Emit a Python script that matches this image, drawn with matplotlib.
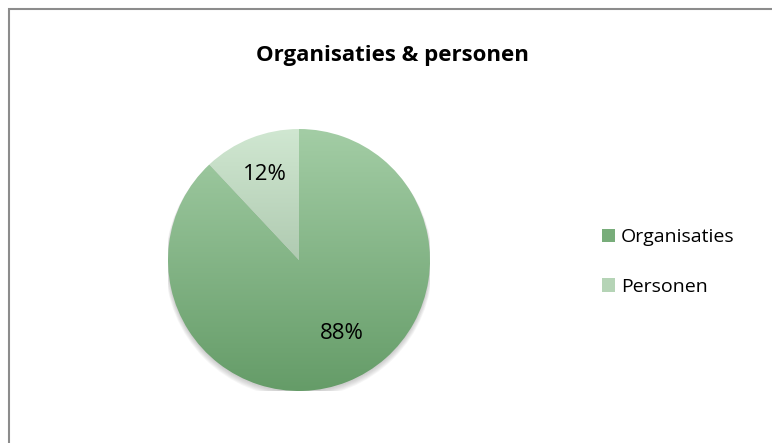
import numpy as np
import matplotlib.pyplot as plt
from matplotlib.colors import LinearSegmentedColormap
from matplotlib.patches import Patch, Circle, Rectangle

# data
categories = ["Organisaties", "Personen"]
values = [88, 12]
title = "Organisaties & personen"

# gradient colors (top -> bottom)
grad_colors = [("#a3cda5", "#659c68"), ("#d0e7d1", "#8fae91")]
legend_colors = ["#78ad7a", "#b5d4b6"]

plt.rcParams["font.family"] = ["Open Sans", "DejaVu Sans"]

W, H = 772, 443
fig = plt.figure(figsize=(W / 100, H / 100), dpi=100)

# outer border (only top and left visible)
fig.add_artist(Rectangle((9 / W, -0.1), 1.2, (H - 8.5) / H + 0.1, transform=fig.transFigure,
                         fill=False, edgecolor="#8c8c8c", linewidth=1.5))

cx, cy, r = 299, 260, 131
ax = fig.add_axes([(cx - r) / W, (H - cy - r) / H, 2 * r / W, 2 * r / H])
ax.axis("off")

# soft shadow
for i in range(6):
    ax.add_patch(Circle((0, -0.012 - 0.004 * i), 1.0 + 0.004 * i, color="#808080",
                        alpha=0.07, zorder=0, linewidth=0))

wedges, texts, autotexts = ax.pie(values, startangle=90, counterclock=False, radius=1.0,
                                  autopct="%1.0f%%", pctdistance=0.7,
                                  wedgeprops=dict(linewidth=0),
                                  textprops=dict(fontsize=16, color="black"))
ax.set_xlim(-1.0, 1.0)
ax.set_ylim(-1.0, 1.0)
ax.set_aspect("equal")

# gradient fill clipped to each wedge
grad = np.linspace(1, 0, 256).reshape(-1, 1)
for w, (top, bot) in zip(wedges, grad_colors):
    w.set_facecolor("none")
    cmap = LinearSegmentedColormap.from_list("g", [bot, top])
    im = ax.imshow(grad, extent=[-1, 1, -1, 1], cmap=cmap, aspect="auto",
                   origin="upper", zorder=1)
    im.set_clip_path(w)
for t in autotexts:
    t.set_zorder(3)
autotexts[0].set_position((0.33, -0.56))

fig.text(392 / W, 1 - 56 / H, title, ha="center", va="center",
         fontsize=16, fontweight="bold")

handles = [Patch(facecolor=c, edgecolor="none") for c in legend_colors]
fig.legend(handles, categories, loc="center left", bbox_to_anchor=(584 / W, 1 - 262 / H),
           frameon=False, fontsize=14, handlelength=0.7, handleheight=0.7,
           handletextpad=0.3, labelspacing=1.6)

fig.savefig("out.png", dpi=100)
